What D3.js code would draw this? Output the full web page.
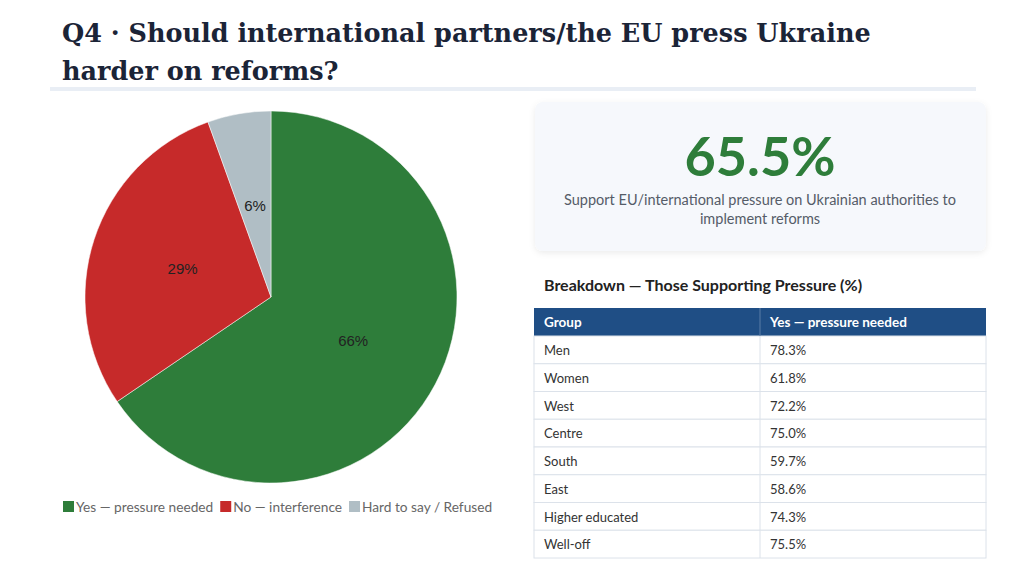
<!DOCTYPE html>
<html lang="en">
<head>
  <meta charset="UTF-8">
  <title>Q4 - Pressure on reforms</title>
  <script src="https://d3js.org/d3.v7.min.js"></script>
  <style>
    body { margin: 0; background: #fff; }
    svg { display: block; }
  </style>
</head>
<body>
<div id="chart"></div>

<script>
// data
var titleLines = ["Q4 · Should international partners/the EU press Ukraine", "harder on reforms?"];
var answers = ["Yes — pressure needed", "No — interference", "Hard to say / Refused"];
var shares = [65.5, 29.0, 5.5];
var sliceColors = ["#2e7d3a", "#c62a2a", "#b0bec5"];

var headline = 65.5;
var headlineText = ["Support EU/international pressure on Ukrainian authorities to", "implement reforms"];

var tableTitle = "Breakdown — Those Supporting Pressure (%)";
var columns = ["Group", "Yes — pressure needed"];
var groups = ["Men", "Women", "West", "Centre", "South", "East", "Higher educated", "Well-off"];
var yesPressure = [78.3, 61.8, 72.2, 75.0, 59.7, 58.6, 74.3, 75.5];

var W = 1024, H = 566;
var sans = "Lato, 'Open Sans', sans-serif";

var svg = d3.select("#chart").append("svg")
  .attr("width", W)
  .attr("height", H);

var defs = svg.append("defs");
var shadow = defs.append("filter").attr("id", "shadow")
  .attr("x", "-5%").attr("y", "-10%").attr("width", "110%").attr("height", "130%");
shadow.append("feDropShadow")
  .attr("dx", 0).attr("dy", 2).attr("stdDeviation", 3)
  .attr("flood-color", "#000").attr("flood-opacity", 0.08);

// title - sized so the first line spans about the same width as on the slide
var title = svg.append("g")
  .attr("font-family", "'DejaVu Serif', 'Liberation Serif', serif")
  .attr("font-weight", "bold")
  .attr("font-size", 30)
  .attr("fill", "#1b2437");

title.selectAll("text")
  .data(titleLines)
  .enter().append("text")
  .attr("x", 62)
  .attr("y", function(d, i) { return 42 + i * 38; })
  .text(function(d) { return d; });

var firstW = title.select("text").node().getComputedTextLength();
title.attr("font-size", Math.min(32, 30 * 809 / firstW));

svg.append("rect")
  .attr("x", 50).attr("y", 87)
  .attr("width", 926).attr("height", 4)
  .attr("fill", "#e9eef5");

// pie
var radius = 186;
var pieG = svg.append("g").attr("transform", "translate(271,297)");

var pie = d3.pie().sort(null).value(function(d) { return d; });
var arc = d3.arc().innerRadius(0).outerRadius(radius);
var labelArc = d3.arc().innerRadius(radius * 0.5).outerRadius(radius * 0.5);

var slices = pie(shares);

pieG.selectAll("path")
  .data(slices)
  .enter().append("path")
  .attr("d", arc)
  .attr("fill", function(d, i) { return sliceColors[i]; })
  .attr("stroke", "#fff")
  .attr("stroke-width", 0.5);

pieG.selectAll("text")
  .data(slices)
  .enter().append("text")
  .attr("transform", function(d) { return "translate(" + labelArc.centroid(d) + ")"; })
  .attr("text-anchor", "middle")
  .attr("dy", "0.35em")
  .attr("font-family", "'Liberation Sans', Arial, sans-serif")
  .attr("font-size", 15)
  .attr("fill", "#222")
  .text(function(d) { return d3.format(".0f")(d.value) + "%"; });

// legend
var legend = svg.append("g").attr("transform", "translate(0,507)");
var lx = 63;
answers.forEach(function(name, i) {
  legend.append("rect")
    .attr("x", lx).attr("y", -6)
    .attr("width", 11).attr("height", 11)
    .attr("fill", sliceColors[i]);
  var t = legend.append("text")
    .attr("x", lx + 13)
    .attr("y", 5)
    .attr("font-family", sans)
    .attr("font-size", 13.7)
    .attr("fill", "#666")
    .text(name);
  lx += 13 + t.node().getComputedTextLength() + 7;
});

// headline card
var card = svg.append("g");
card.append("rect")
  .attr("x", 535).attr("y", 102)
  .attr("width", 451).attr("height", 149)
  .attr("rx", 8)
  .attr("fill", "#f6f8fc")
  .attr("filter", "url(#shadow)");

card.append("text")
  .attr("x", 760).attr("y", 176)
  .attr("text-anchor", "middle")
  .attr("font-family", sans)
  .attr("font-weight", "bold")
  .attr("font-size", 54)
  .attr("fill", "#2e7d3a")
  .text(d3.format(".1f")(headline) + "%");

card.selectAll(".sub")
  .data(headlineText)
  .enter().append("text")
  .attr("class", "sub")
  .attr("x", 760)
  .attr("y", function(d, i) { return 205 + i * 19; })
  .attr("text-anchor", "middle")
  .attr("font-family", sans)
  .attr("font-size", 14.5)
  .attr("fill", "#555c68")
  .text(function(d) { return d; });

// breakdown table
svg.append("text")
  .attr("x", 544).attr("y", 291)
  .attr("font-family", sans)
  .attr("font-weight", "bold")
  .attr("font-size", 16)
  .attr("fill", "#222")
  .text(tableTitle);

var tableX = 534, tableW = 452, splitX = 760;
var headTop = 308, headH = 28;
var rowY = d3.scaleBand()
  .domain(groups)
  .range([headTop + headH, 558]);

var table = svg.append("g");

table.append("rect")
  .attr("x", tableX).attr("y", headTop)
  .attr("width", tableW).attr("height", headH)
  .attr("fill", "#1f4e85");

table.selectAll(".head")
  .data(columns)
  .enter().append("text")
  .attr("class", "head")
  .attr("x", function(d, i) { return i === 0 ? tableX + 10 : splitX + 10; })
  .attr("y", headTop + headH / 2)
  .attr("dy", "0.35em")
  .attr("font-family", sans)
  .attr("font-weight", "bold")
  .attr("font-size", 13.5)
  .attr("fill", "#fff")
  .text(function(d) { return d; });

var rows = table.selectAll(".row")
  .data(groups)
  .enter().append("g")
  .attr("class", "row")
  .attr("transform", function(d) { return "translate(0," + rowY(d) + ")"; });

rows.append("rect")
  .attr("x", tableX).attr("y", 0)
  .attr("width", tableW).attr("height", rowY.bandwidth())
  .attr("fill", "#fff")
  .attr("stroke", "#dce2ea")
  .attr("stroke-width", 1);

rows.append("line")
  .attr("x1", splitX).attr("x2", splitX)
  .attr("y1", 0).attr("y2", rowY.bandwidth())
  .attr("stroke", "#dce2ea");

rows.append("text")
  .attr("x", tableX + 10)
  .attr("y", rowY.bandwidth() / 2)
  .attr("dy", "0.4em")
  .attr("font-family", sans)
  .attr("font-size", 13)
  .attr("fill", "#333")
  .text(function(d) { return d; });

rows.append("text")
  .attr("x", splitX + 10)
  .attr("y", rowY.bandwidth() / 2)
  .attr("dy", "0.4em")
  .attr("font-family", sans)
  .attr("font-size", 13)
  .attr("fill", "#333")
  .text(function(d, i) { return d3.format(".1f")(yesPressure[i]) + "%"; });

table.append("line")
  .attr("x1", splitX).attr("x2", splitX)
  .attr("y1", headTop).attr("y2", headTop + headH)
  .attr("stroke", "#5a7ca6");
</script>
</body>
</html>
